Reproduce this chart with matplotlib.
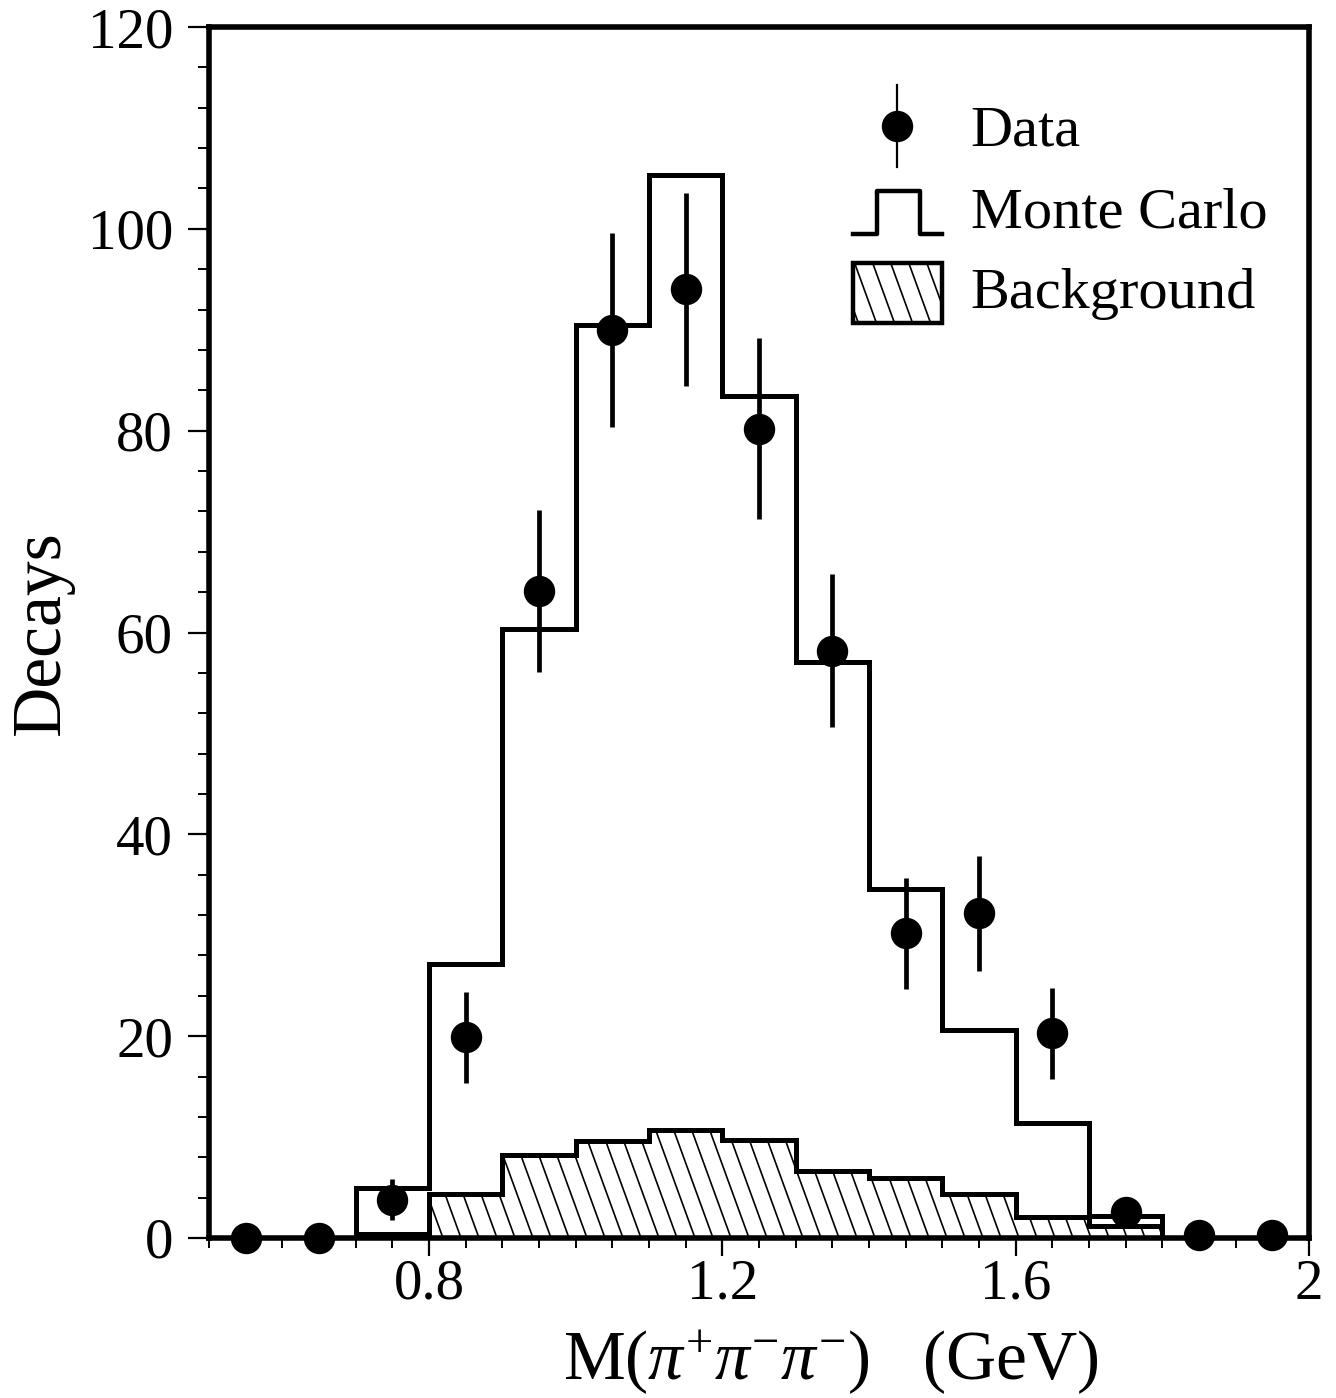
import numpy as np
import matplotlib
matplotlib.use("Agg")
import matplotlib.pyplot as plt
from matplotlib.lines import Line2D
from matplotlib.patches import Rectangle, Patch
from matplotlib.collections import LineCollection
from matplotlib.legend_handler import HandlerBase
from matplotlib.ticker import MultipleLocator, FuncFormatter

plt.rcParams['font.family'] = ['Liberation Serif', 'DejaVu Serif']
plt.rcParams['mathtext.fontset'] = 'custom'
plt.rcParams['mathtext.rm'] = 'Liberation Serif'
plt.rcParams['mathtext.it'] = 'Liberation Serif:italic'

# ---- data ----
data_x = [0.55, 0.65, 0.75, 0.85, 0.95, 1.05, 1.15, 1.25, 1.35, 1.45, 1.55, 1.65, 1.75, 1.85, 1.95]
data_y = [0.0, 0.0, 3.8, 19.9, 64.1, 90.0, 94.0, 80.2, 58.2, 30.2, 32.2, 20.3, 2.6, 0.3, 0.3]
data_err = [0.0, 0.0, 2.0, 4.5, 8.0, 9.6, 9.6, 9.0, 7.6, 5.5, 5.7, 4.5, 1.4, 0.0, 0.0]

bin_edges = [0.7, 0.8, 0.9, 1.0, 1.1, 1.2, 1.3, 1.4, 1.5, 1.6, 1.7, 1.8]
mc_counts = [5.0, 27.2, 60.3, 90.5, 105.3, 83.4, 57.1, 34.6, 20.6, 11.4, 2.2]
bg_counts = [0.4, 4.4, 8.2, 9.6, 10.7, 9.7, 6.6, 5.9, 4.4, 2.1, 1.2]

x_ticks = [0.8, 1.2, 1.6, 2.0]
y_ticks = [0, 20, 40, 60, 80, 100, 120]

labels = ["Data", "Monte Carlo", "Background"]

# ---- figure ----
W_PX, H_PX = 1336, 1398
fig = plt.figure(figsize=(W_PX / 100, H_PX / 100), dpi=100)
ax_l, ax_r, ax_b, ax_t = 209, 1309, 1238, 27
ax = fig.add_axes([ax_l / W_PX, 1 - ax_b / H_PX, (ax_r - ax_l) / W_PX, (ax_b - ax_t) / H_PX])
ax.set_xlim(0.5, 2.0)
ax.set_ylim(0, 120)

LW = 3.6
# background (hatched)
bg = ax.stairs(bg_counts, bin_edges, baseline=0, fill=True, facecolor='white',
               edgecolor='none', zorder=2)
bg_outline = ax.stairs(bg_counts, bin_edges, baseline=0, fill=False, color='black',
                       lw=LW, zorder=3)

# steep hatch lines clipped to the background area (axes-fraction coordinates)
axw, axh = ax_r - ax_l, ax_b - ax_t
sp = 18.0 / axw
rise = 0.12
shift = 0.364 * rise * axh / axw
starts = np.arange(0.0, 1.15, sp)
segs = [[(s, 0.0), (s - shift, rise)] for s in starts]
lc = LineCollection(segs, colors='black', linewidths=1.2, transform=ax.transAxes, zorder=2.5)
ax.add_collection(lc)
lc.set_clip_path(bg)

# Monte Carlo histogram
ax.stairs(mc_counts, bin_edges, baseline=0, fill=False, color='black', lw=LW, zorder=4)

# data points
ax.errorbar(data_x, data_y, yerr=data_err, fmt='o', color='black', ms=21.6,
            elinewidth=3.4, capsize=0, zorder=6, clip_on=False)

# ---- axes styling ----
for s in ax.spines.values():
    s.set_linewidth(4)
ax.tick_params(axis='both', which='both', direction='out', top=False, right=False)
ax.tick_params(axis='x', which='major', length=13, width=1.6, labelsize=41, pad=2)
ax.tick_params(axis='x', which='minor', length=7, width=1.4)
ax.tick_params(axis='y', which='major', length=15, width=1.6, labelsize=41, pad=11)
ax.tick_params(axis='y', which='minor', length=8, width=1.4)
ax.set_xticks(x_ticks)
ax.xaxis.set_minor_locator(MultipleLocator(0.05))
ax.xaxis.set_major_formatter(FuncFormatter(lambda v, p: f"{v:g}"))
ax.set_yticks(y_ticks)
ax.yaxis.set_minor_locator(MultipleLocator(4))

ax.set_ylabel("Decays", fontsize=50, labelpad=10)
ax.set_xlabel(r"M($\pi^{+}\pi^{-}\pi^{-}$)   (GeV)", fontsize=50)
ax.xaxis.set_label_coords(0.565, -0.074)
ax.xaxis.label.set_va('top')


# ---- legend with custom handles ----
class DataHandler(HandlerBase):
    def create_artists(self, legend, orig, xd, yd, w, h, fs, trans):
        cx, cy = w / 2 - xd, h / 2 - yd
        bar = Line2D([cx, cx], [cy - 0.75 * h, cy + 0.75 * h], color='black', lw=1.6, transform=trans)
        dot = Line2D([cx], [cy], marker='o', ms=21.6, color='black', ls='none', transform=trans)
        return [bar, dot]


class MCHandler(HandlerBase):
    def create_artists(self, legend, orig, xd, yd, w, h, fs, trans):
        x0, y0 = -xd, -yd
        lo, hi = y0 + 0.0 * h, y0 + 0.8 * h
        xs = [x0, x0 + 0.27 * w, x0 + 0.27 * w, x0 + 0.76 * w, x0 + 0.76 * w, x0 + w]
        ys = [lo, lo, hi, hi, lo, lo]
        return [Line2D(xs, ys, color='black', lw=3.2, transform=trans)]


class BGHandler(HandlerBase):
    def create_artists(self, legend, orig, xd, yd, w, h, fs, trans):
        x0, y0 = -xd, -yd - 0.15 * h
        hh = 1.12 * h
        rect = Rectangle((x0, y0), w, hh, facecolor='white', edgecolor='black', lw=3.2,
                         transform=trans)
        step = 13.0
        sh = 0.364 * hh
        art = [rect]
        for s in np.arange(x0 + 4, x0 + w + sh, step):
            ln = Line2D([s, s - sh], [y0, y0 + hh], color='black', lw=1.2, transform=trans)
            ln.set_clip_path(rect)
            art.append(ln)
        return art


h_data = Line2D([], [])
h_mc = Line2D([], [])
h_bg = Patch()
leg = ax.legend([h_data, h_mc, h_bg], labels,
                handler_map={h_data: DataHandler(), h_mc: MCHandler(), h_bg: BGHandler()},
                loc='upper left', bbox_to_anchor=(853 / W_PX, 1 - 99 / H_PX),
                bbox_transform=fig.transFigure, frameon=False, fontsize=42,
                handlelength=1.52, handleheight=1.05, handletextpad=0.5,
                labelspacing=0.38, borderpad=0, borderaxespad=0)
leg.set_zorder(10)

fig.savefig("out.png", dpi=100, facecolor='white')
